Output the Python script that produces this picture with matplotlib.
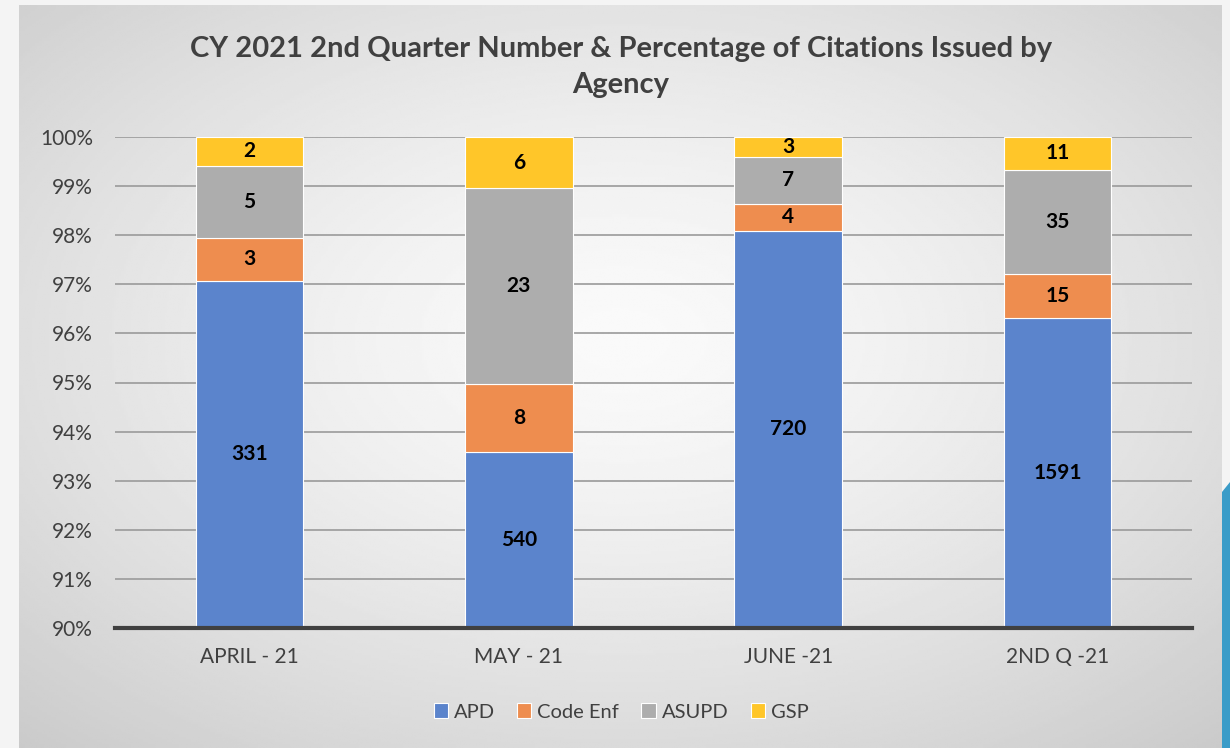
import numpy as np
import matplotlib.pyplot as plt
from matplotlib.patches import Polygon
from matplotlib.ticker import PercentFormatter

# data
months = ["APRIL - 21", "MAY - 21", "JUNE -21", "2ND Q -21"]
agencies = ["APD", "Code Enf", "ASUPD", "GSP"]
apd = [331, 540, 720, 1591]
code_enf = [3, 8, 4, 15]
asupd = [5, 23, 7, 35]
gsp = [2, 6, 3, 11]
colors = ["#5B84CC", "#EE8D4F", "#ADADAD", "#FFC629"]

counts = np.array([apd, code_enf, asupd, gsp], dtype=float)
pct = counts / counts.sum(axis=0) * 100

fig = plt.figure(figsize=(12.3, 7.48), dpi=100)
fig.patch.set_facecolor("#f4f4f4")

# gradient panel behind the chart
bg = fig.add_axes([19 / 1230, 0, (1221 - 19) / 1230, 1 - 5 / 748], zorder=-10)
yy, xx = np.mgrid[0:1:300j, 0:1:500j]
r = np.sqrt(((xx - 0.5) / 0.75) ** 2 + ((yy - 0.45) / 0.75) ** 2)
shade = np.clip(0.98 - 0.19 * r ** 1.4, 0.77, 1)
bg.imshow(shade, cmap="gray", vmin=0, vmax=1, aspect="auto", extent=[0, 1, 0, 1])
bg.set_axis_off()

# blue decoration on the right edge
fig.patches.append(Polygon([[1222 / 1230, 0], [1230 / 1230, 0], [1230 / 1230, 1 - 482 / 748],
                            [1222 / 1230, 1 - 492 / 748]], closed=True,
                           transform=fig.transFigure, facecolor="#3a9cc8", edgecolor="none"))

ax = fig.add_axes([115 / 1230, 1 - 628 / 748, (1192 - 115) / 1230, (628 - 137) / 748])
ax.patch.set_alpha(0)

x = np.arange(len(months))
bottom = np.zeros(len(months))
for i, name in enumerate(agencies):
    ax.bar(x, pct[i], 0.4, bottom=bottom, color=colors[i], edgecolor="white",
           linewidth=0.8, label=name, zorder=3)
    for j in range(len(months)):
        lo = max(bottom[j], 90)
        hi = bottom[j] + pct[i][j]
        ax.text(x[j], (lo + hi) / 2, str(int(counts[i][j])), ha="center", va="center",
                fontsize=15, fontweight="bold", family="Lato", color="black", zorder=4)
    bottom += pct[i]

ax.set_ylim(90, 100)
ax.set_xlim(-0.5, 3.5)
ax.set_yticks(np.arange(90, 101, 1))
ax.yaxis.set_major_formatter(PercentFormatter(decimals=0))
ax.set_xticks(x)
ax.set_xticklabels(months)
ax.tick_params(length=0, labelsize=15, labelcolor="#404040", pad=14)
ax.tick_params(axis="y", pad=16)
for lab in ax.get_xticklabels() + ax.get_yticklabels():
    lab.set_family("Lato")
ax.grid(axis="y", color="#9a9a9a", linewidth=1.2, zorder=0)
for s in ["top", "right", "left"]:
    ax.spines[s].set_visible(False)
ax.spines["bottom"].set_color("#404040")
ax.spines["bottom"].set_linewidth(3)
ax.spines["bottom"].set_zorder(5)

fig.text(0.505, 1 - 67 / 748, "CY 2021 2nd Quarter Number & Percentage of Citations Issued by\nAgency",
         ha="center", va="center", fontsize=21, fontweight="bold", color="#404040",
         family="Lato", linespacing=1.45)

leg = fig.legend(loc="center", bbox_to_anchor=(0.505, 1 - 712 / 748), ncol=4, frameon=False,
                 prop={"family": "Lato", "size": 14.5}, handlelength=0.7, handleheight=0.7,
                 handletextpad=0.3, columnspacing=1.1)
for t in leg.get_texts():
    t.set_color("#404040")

fig.savefig("out.png", dpi=100)
